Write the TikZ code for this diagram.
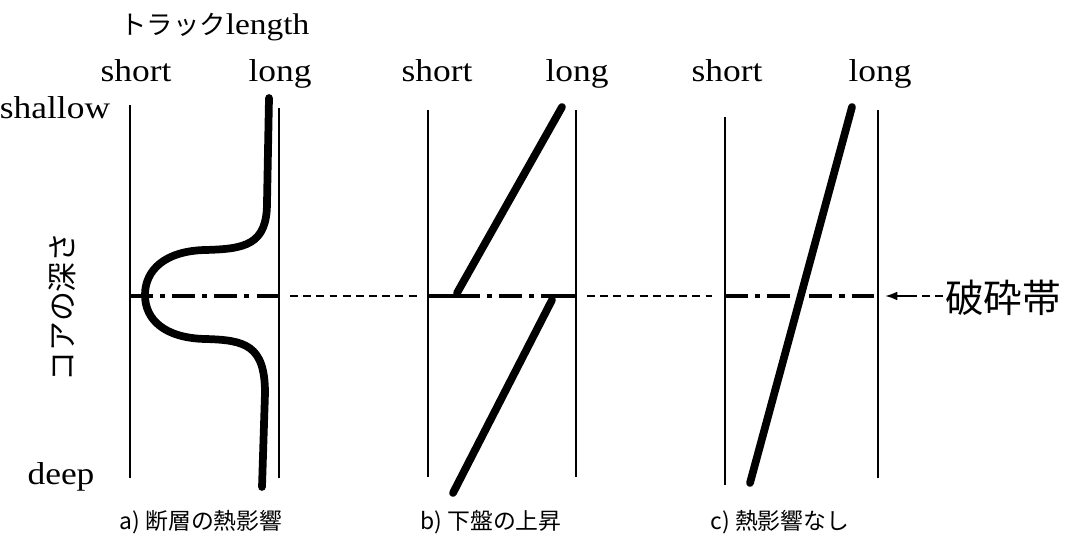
\documentclass[tikz,border=0pt]{standalone}
\usepackage{fontspec}
\setmainfont{Liberation Serif}
\newfontfamily\latfont[FakeStretch=1.12]{Liberation Serif}
\newfontfamily\jpfont{Noto Sans CJK JP}
\usetikzlibrary{arrows.meta}

\begin{document}
\begin{tikzpicture}[
  >={Latex[length=7pt, width=5pt]},
  axis/.style={line width=1.1pt},
  track/.style={line width=4.4pt, line cap=round},
  zone/.style={line width=2.3pt, dash pattern=on 13pt off 4pt on 3pt off 4pt},
  link/.style={line width=1.1pt, dash pattern=on 4.5pt off 3pt},
  lat/.style={font=\latfont\fontsize{18}{20}\selectfont, anchor=base, inner sep=0pt},
  caption/.style={font=\jpfont\fontsize{13}{15}\selectfont, inner sep=0pt},
]

% Frame
\useasboundingbox (0,0) rectangle (21.44,10.8);

\def\yF{4.88}

% === Axis labels ===
\node[anchor=base west, inner sep=0pt] (trk) at (2.4,10.1)
  {{\jpfont\fontsize{15}{17}\selectfont トラック}{\latfont\fontsize{17}{19}\selectfont length}};
\node[lat] (shal) at (1.1,8.42) {shallow};
\node[lat] (deep) at (1.22,1.1) {deep};
\node[font=\jpfont\fontsize{17}{19}\selectfont, rotate=90] (depth) at (1.24,4.66) {コアの深さ};

\node[lat] (shA) at (2.72,9.16) {short};
\node[lat] (lgA) at (5.6,9.16) {long};
\node[lat] (shB) at (8.74,9.16) {short};
\node[lat] (lgB) at (11.54,9.16) {long};
\node[lat] (shC) at (14.54,9.16) {short};
\node[lat] (lgC) at (17.6,9.16) {long};

% === a) fault heating ===
\draw[axis] (2.6,8.7) -- (2.6,1.24);
\draw[axis] (5.58,8.64) -- (5.58,1.24);
\draw[zone] (2.6,\yF) -- (5.58,\yF);
\draw[track] (5.38,8.84) -- (5.34,6.74)
  .. controls (5.34,5.9) and (4.9,5.82) .. (4.1,5.8)
  .. controls (3.3,5.78) and (2.9,5.4) .. (2.9,4.9)
  .. controls (2.9,4.4) and (3.3,4.04) .. (4.1,4.02)
  .. controls (4.9,4.0) and (5.3,3.9) .. (5.3,2.94)
  -- (5.24,1.06);

% === b) footwall uplift ===
\draw[axis] (8.56,8.6) -- (8.56,1.26);
\draw[axis] (11.52,8.6) -- (11.52,1.26);
\draw[line width=2.3pt] (8.56,\yF) -- (9.14,\yF);
\draw[zone] (9.14,\yF) -- (11.04,\yF);
\draw[line width=2.3pt] (11.04,\yF) -- (11.52,\yF);
\draw[track] (9.14,4.94) -- (11.24,8.66);
\draw[track] (11.04,4.8) -- (9.06,0.94);

% === c) no heating ===
\draw[axis] (14.5,8.46) -- (14.5,1.1);
\draw[axis] (17.56,8.6) -- (17.56,1.24);
\draw[zone] (14.5,\yF) -- (17.56,\yF);
\draw[track] (17.04,8.66) -- (15.0,1.14);

% Fracture zone level
\draw[link] (5.8,\yF) -- (8.36,\yF);
\draw[link] (11.74,\yF) -- (14.24,\yF);

\node[font=\jpfont\fontsize{22}{24}\selectfont, anchor=west, inner sep=1pt] (zone) at (18.86,4.84) {破砕帯};
\coordinate (zmid) at (18.3,\yF);
\coordinate (ztip) at (17.7,\yF);
\draw[link] (zone.west |- zmid) -- (zmid);
\draw[axis, ->] (zmid) -- (ztip);

% Captions
\node[caption] (capA) at (4.02,0.36) {a) 断層の熱影響};
\node[caption] (capB) at (9.82,0.36) {b) 下盤の上昇};
\node[caption] (capC) at (15.6,0.36) {c) 熱影響なし};

\end{tikzpicture}
\end{document}
